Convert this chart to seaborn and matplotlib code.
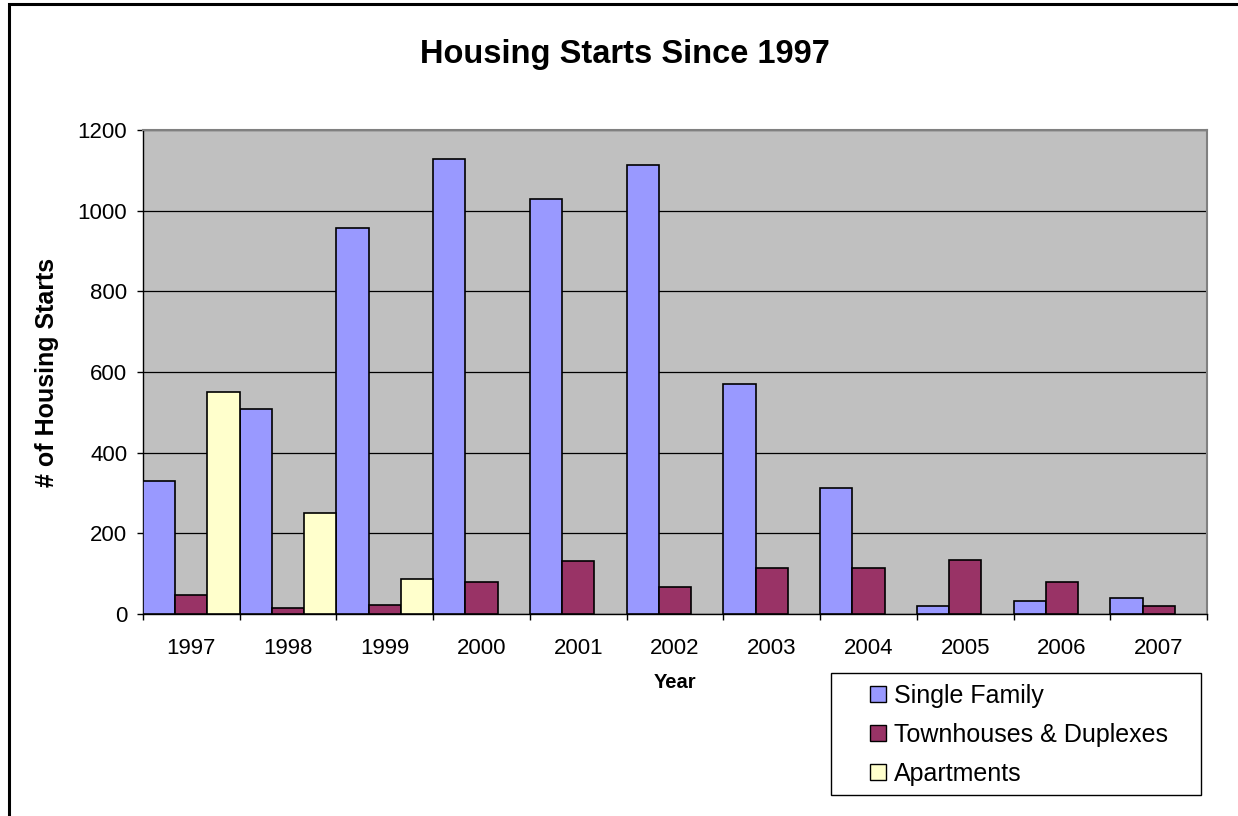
import numpy as np
import pandas as pd
import matplotlib
matplotlib.use("Agg")
import matplotlib.pyplot as plt
from matplotlib.patches import Patch, Rectangle
from matplotlib.ticker import FixedLocator
import seaborn as sns

years = ["1997", "1998", "1999", "2000", "2001", "2002", "2003", "2004", "2005", "2006", "2007"]
single_family = [330, 508, 957, 1127, 1028, 1112, 571, 313, 20, 31, 40]
townhouses = [47, 15, 22, 80, 131, 68, 114, 114, 134, 79, 20]
apartments = [550, 250, 87, np.nan, np.nan, np.nan, np.nan, np.nan, np.nan, np.nan, np.nan]
series_names = ["Single Family", "Townhouses & Duplexes", "Apartments"]
series_colors = ["#9999FF", "#993366", "#FFFFCC"]
y_ticks = [0, 200, 400, 600, 800, 1000, 1200]

rows = []
for name, vals in zip(series_names, [single_family, townhouses, apartments]):
    for yr, v in zip(years, vals):
        if not pd.isna(v):
            rows.append({"Year": yr, "Series": name, "Value": v})
df = pd.DataFrame(rows)

sns.set_style("white")
plt.rcParams['font.family'] = ['Liberation Sans', 'DejaVu Sans']
plt.rcParams['text.color'] = 'black'
plt.rcParams['axes.labelcolor'] = 'black'
plt.rcParams['xtick.color'] = 'black'
plt.rcParams['ytick.color'] = 'black'

W, H = 1238, 816
fig = plt.figure(figsize=(W / 100, H / 100), dpi=100)
L, R, T, B = 143, 1207, 130, 614
ax = fig.add_axes([L / W, 1 - B / H, (R - L) / W, (B - T) / H])
ax.set_facecolor("#C0C0C0")

sns.barplot(data=df, x="Year", y="Value", hue="Series", order=years,
            hue_order=series_names, palette=series_colors, width=1.0, gap=0,
            edgecolor="black", linewidth=1.2, saturation=1, errorbar=None,
            ax=ax, legend=False, zorder=3)

ax.set_xlim(-0.5, len(years) - 0.5)
ax.set_ylim(0, 1200)
ax.set_yticks(y_ticks)
ax.yaxis.grid(True, color="black", linewidth=0.9, zorder=1)
ax.set_axisbelow(True)
for b in ax.patches:
    b.set_zorder(3)

ax.xaxis.set_minor_locator(FixedLocator(np.arange(-0.5, len(years), 1.0)))
ax.tick_params(axis="x", which="major", length=0, pad=17, labelsize=16, colors="black")
ax.tick_params(axis="x", which="minor", length=4.5, width=1, color="black", direction="out", bottom=True)
ax.tick_params(axis="y", which="major", length=4.3, width=1, color="black", direction="out",
               pad=7, labelsize=16, left=True, labelcolor="black")

for s in ["left", "bottom"]:
    ax.spines[s].set_color("black")
    ax.spines[s].set_linewidth(1.0)
for s in ["top", "right"]:
    ax.spines[s].set_color("#808080")
    ax.spines[s].set_linewidth(1.5)

ax.set_xlabel("Year", fontsize=14.5, fontweight="bold", color="black")
ax.xaxis.set_label_coords(0.5, -(683 - B) / (B - T))
ax.xaxis.label.set_va("center")
ax.set_ylabel("# of Housing Starts", fontsize=18, fontweight="bold", color="black")
ax.yaxis.set_label_coords(-(L - 47) / (R - L), 0.5)
ax.yaxis.label.set_va("center")

fig.text(625 / W, 1 - 63.3 / H, "Housing Starts Since 1997", ha="center", va="baseline",
         fontsize=23.5, fontweight="bold", color="black")

# legend box
fig.patches.append(Rectangle((831 / W, 1 - 795 / H), (1201 - 831) / W, (795 - 673) / H,
                             transform=fig.transFigure, facecolor="white", edgecolor="black",
                             linewidth=1.0, zorder=5))
handles = [Patch(facecolor=c, edgecolor="black", linewidth=1.0) for c in series_colors]
leg = fig.legend(handles, series_names, loc="upper left",
                 bbox_to_anchor=(870 / W, 1 - 684 / H), frameon=False, fontsize=18,
                 borderpad=0, borderaxespad=0, handlelength=0.64, handleheight=0.64,
                 handletextpad=0.32, labelspacing=0.6, labelcolor="black")
leg.set_zorder(6)

# figure border
fig.patches.append(Rectangle((9 / W, -0.1), 1.2, 1 - 4 / H + 0.1, transform=fig.transFigure,
                             facecolor="none", edgecolor="black", linewidth=2.2, zorder=10))

fig.savefig("out.png", dpi=100)
